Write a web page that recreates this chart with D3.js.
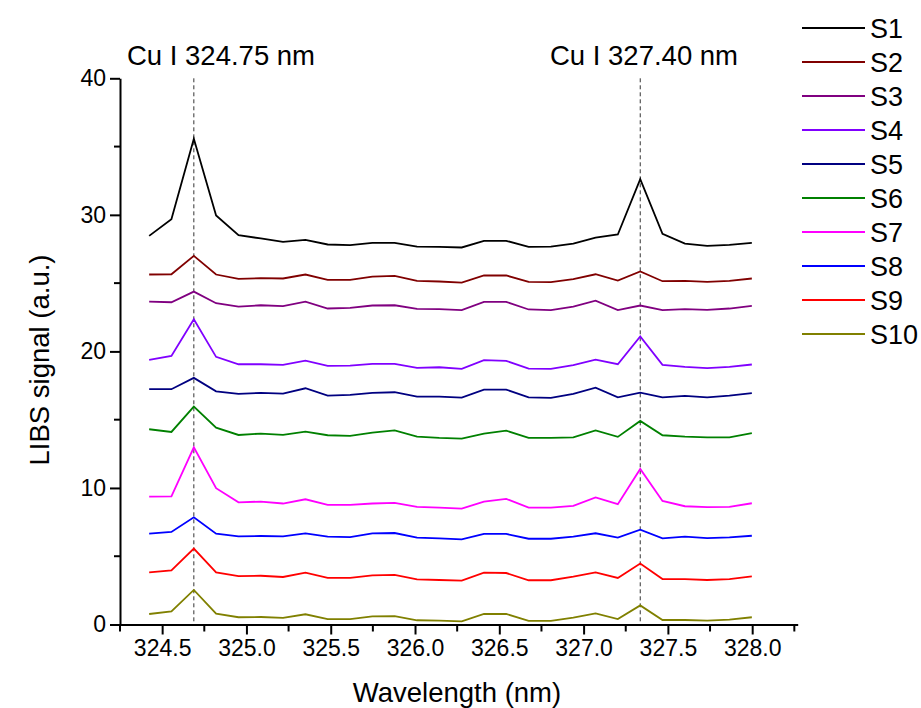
<!DOCTYPE html>
<html>
<head>
<meta charset="utf-8">
<script src="https://cdnjs.cloudflare.com/ajax/libs/d3/7.8.5/d3.min.js"></script>
<style>
  body { margin: 0; background: #fff; }
  svg text { font-family: "Liberation Sans", Arial, sans-serif; fill: #000; }
</style>
</head>
<body>
<svg id="main"></svg>
<script>
var wavelength = [324.423, 324.555, 324.688, 324.820, 324.953, 325.085, 325.217, 325.350, 325.482,
  325.615, 325.747, 325.879, 326.012, 326.144, 326.277, 326.409, 326.541, 326.674, 326.806,
  326.939, 327.071, 327.203, 327.336, 327.468, 327.601, 327.733, 327.865, 327.998];

var s1 = [28.46, 29.68, 35.57, 29.95, 28.51, 28.27, 28.02, 28.17, 27.83, 27.78, 27.95, 27.95, 27.68, 27.66,
  27.61, 28.10, 28.10, 27.66, 27.68, 27.90, 28.34, 28.56, 32.61, 28.61, 27.90, 27.73, 27.80, 27.95];
var s2 = [25.63, 25.65, 27.00, 25.63, 25.31, 25.36, 25.34, 25.63, 25.24, 25.24, 25.48, 25.53, 25.16, 25.12,
  25.04, 25.56, 25.56, 25.09, 25.07, 25.29, 25.65, 25.19, 25.85, 25.14, 25.16, 25.09, 25.16, 25.34];
var s3 = [23.65, 23.60, 24.38, 23.53, 23.28, 23.38, 23.31, 23.65, 23.14, 23.19, 23.36, 23.38, 23.11, 23.09,
  23.02, 23.63, 23.63, 23.07, 23.02, 23.28, 23.72, 23.02, 23.36, 23.02, 23.09, 23.04, 23.14, 23.33];
var s4 = [19.38, 19.67, 22.36, 19.60, 19.06, 19.06, 19.01, 19.33, 18.94, 18.96, 19.09, 19.09, 18.79, 18.84,
  18.72, 19.36, 19.31, 18.74, 18.72, 18.99, 19.40, 19.06, 21.09, 19.01, 18.87, 18.77, 18.87, 19.04];
var s5 = [17.23, 17.23, 18.06, 17.08, 16.89, 16.96, 16.91, 17.30, 16.76, 16.81, 16.96, 17.01, 16.69, 16.69,
  16.62, 17.20, 17.20, 16.64, 16.59, 16.89, 17.35, 16.64, 16.98, 16.64, 16.74, 16.64, 16.76, 16.94];
var s6 = [14.30, 14.10, 15.96, 14.42, 13.88, 13.98, 13.88, 14.13, 13.86, 13.81, 14.05, 14.22, 13.76, 13.66,
  13.61, 13.98, 14.20, 13.66, 13.66, 13.71, 14.22, 13.74, 14.91, 13.86, 13.76, 13.71, 13.71, 14.01];
var s7 = [9.37, 9.39, 12.98, 9.98, 8.95, 9.00, 8.86, 9.17, 8.76, 8.76, 8.86, 8.91, 8.61, 8.56,
  8.49, 9.00, 9.20, 8.56, 8.56, 8.69, 9.30, 8.81, 11.39, 9.05, 8.66, 8.59, 8.61, 8.88];
var s8 = [6.65, 6.78, 7.85, 6.65, 6.46, 6.48, 6.46, 6.68, 6.43, 6.40, 6.68, 6.70, 6.36, 6.31,
  6.23, 6.63, 6.63, 6.28, 6.28, 6.43, 6.68, 6.36, 6.95, 6.31, 6.43, 6.33, 6.38, 6.50];
var s9 = [3.82, 3.97, 5.56, 3.82, 3.55, 3.57, 3.48, 3.80, 3.41, 3.41, 3.60, 3.63, 3.31, 3.26,
  3.21, 3.80, 3.77, 3.24, 3.24, 3.50, 3.82, 3.41, 4.46, 3.33, 3.33, 3.26, 3.33, 3.53];
var s10 = [0.77, 0.96, 2.53, 0.79, 0.53, 0.55, 0.48, 0.75, 0.40, 0.40, 0.60, 0.62, 0.31, 0.28,
  0.23, 0.77, 0.77, 0.26, 0.26, 0.50, 0.82, 0.40, 1.40, 0.33, 0.33, 0.28, 0.35, 0.53];

var seriesNames = ["S1", "S2", "S3", "S4", "S5", "S6", "S7", "S8", "S9", "S10"];
var seriesValues = [s1, s2, s3, s4, s5, s6, s7, s8, s9, s10];
var seriesColors = ["#000000", "#800000", "#800080", "#8000ff", "#000080",
  "#008000", "#ff00ff", "#0000ff", "#ff0000", "#808000"];

var peakLines = [324.688, 327.336];
var peakLabels = ["Cu I 324.75 nm", "Cu I 327.40 nm"];

var xMajor = [324.5, 325.0, 325.5, 326.0, 326.5, 327.0, 327.5, 328.0];
var xMinor = [324.25, 324.75, 325.25, 325.75, 326.25, 326.75, 327.25, 327.75, 328.25];
var yMajor = [0, 10, 20, 30, 40];
var yMinor = [5, 15, 25, 35];

var w = 921;
var h = 708;

var svg = d3.select("#main")
  .attr("width", w)
  .attr("height", h);

var xScale = d3.scaleLinear()
  .domain([324.25, 328.27])
  .range([120, 797.7]);

var yScale = d3.scaleLinear()
  .domain([0, 40])
  .range([624.5, 78.3]);

// dashed lines at the Cu peaks, drawn first so the data sits on top
svg.selectAll(".peak")
  .data(peakLines)
  .enter()
  .append("line")
  .attr("class", "peak")
  .attr("x1", function(d) { return xScale(d); })
  .attr("x2", function(d) { return xScale(d); })
  .attr("y1", yScale(40))
  .attr("y2", yScale(0))
  .attr("stroke", "#333")
  .attr("stroke-width", 1)
  .attr("stroke-dasharray", "4,3");

var line = d3.line()
  .x(function(d, i) { return xScale(wavelength[i]); })
  .y(function(d) { return yScale(d); });

svg.selectAll(".series")
  .data(seriesValues)
  .enter()
  .append("path")
  .attr("class", "series")
  .attr("d", line)
  .attr("fill", "none")
  .attr("stroke", function(d, i) { return seriesColors[i]; })
  .attr("stroke-width", 1.8);

// x axis
var xAxis = d3.axisBottom(xScale)
  .tickValues(xMajor)
  .tickFormat(d3.format(".1f"))
  .tickSize(10)
  .tickSizeOuter(0)
  .tickPadding(5);

var gx = svg.append("g")
  .attr("transform", "translate(0," + yScale(0) + ")")
  .call(xAxis);

gx.selectAll(".minor")
  .data(xMinor)
  .enter()
  .append("line")
  .attr("class", "minor")
  .attr("x1", function(d) { return xScale(d); })
  .attr("x2", function(d) { return xScale(d); })
  .attr("y1", 0)
  .attr("y2", 7)
  .attr("stroke", "#000");

// y axis
var yAxis = d3.axisLeft(yScale)
  .tickValues(yMajor)
  .tickSize(10)
  .tickSizeOuter(0)
  .tickPadding(4);

var gy = svg.append("g")
  .attr("transform", "translate(" + xScale(324.25) + ",0)")
  .call(yAxis);

gy.selectAll(".minor")
  .data(yMinor)
  .enter()
  .append("line")
  .attr("class", "minor")
  .attr("x1", 0)
  .attr("x2", -6)
  .attr("y1", function(d) { return yScale(d); })
  .attr("y2", function(d) { return yScale(d); })
  .attr("stroke", "#000");

svg.selectAll(".domain").attr("stroke-width", 2);
svg.selectAll(".tick line, .minor").attr("stroke-width", 2);
svg.selectAll(".tick text")
  .style("font-family", "Liberation Sans, Arial, sans-serif")
  .style("font-size", "23px");

// axis titles
svg.append("text")
  .attr("x", 457)
  .attr("y", 702)
  .attr("text-anchor", "middle")
  .style("font-size", "27.5px")
  .text("Wavelength (nm)");

svg.append("text")
  .attr("transform", "translate(49,360) rotate(-90)")
  .attr("text-anchor", "middle")
  .style("font-size", "27.5px")
  .text("LIBS signal (a.u.)");

// peak labels
var labelX = [127, 550];
svg.selectAll(".peakLabel")
  .data(peakLabels)
  .enter()
  .append("text")
  .attr("class", "peakLabel")
  .attr("x", function(d, i) { return labelX[i]; })
  .attr("y", 65)
  .style("font-size", "27.5px")
  .text(function(d) { return d; });

// legend
var legend = svg.selectAll(".legend")
  .data(seriesNames)
  .enter()
  .append("g")
  .attr("class", "legend")
  .attr("transform", function(d, i) { return "translate(802," + (28 + i * 34) + ")"; });

legend.append("line")
  .attr("x1", 0)
  .attr("x2", 63)
  .attr("y1", 0)
  .attr("y2", 0)
  .attr("stroke", function(d, i) { return seriesColors[i]; })
  .attr("stroke-width", 2);

legend.append("text")
  .attr("x", 68)
  .attr("y", 10)
  .style("font-size", "27px")
  .text(function(d) { return d; });
</script>
</body>
</html>
